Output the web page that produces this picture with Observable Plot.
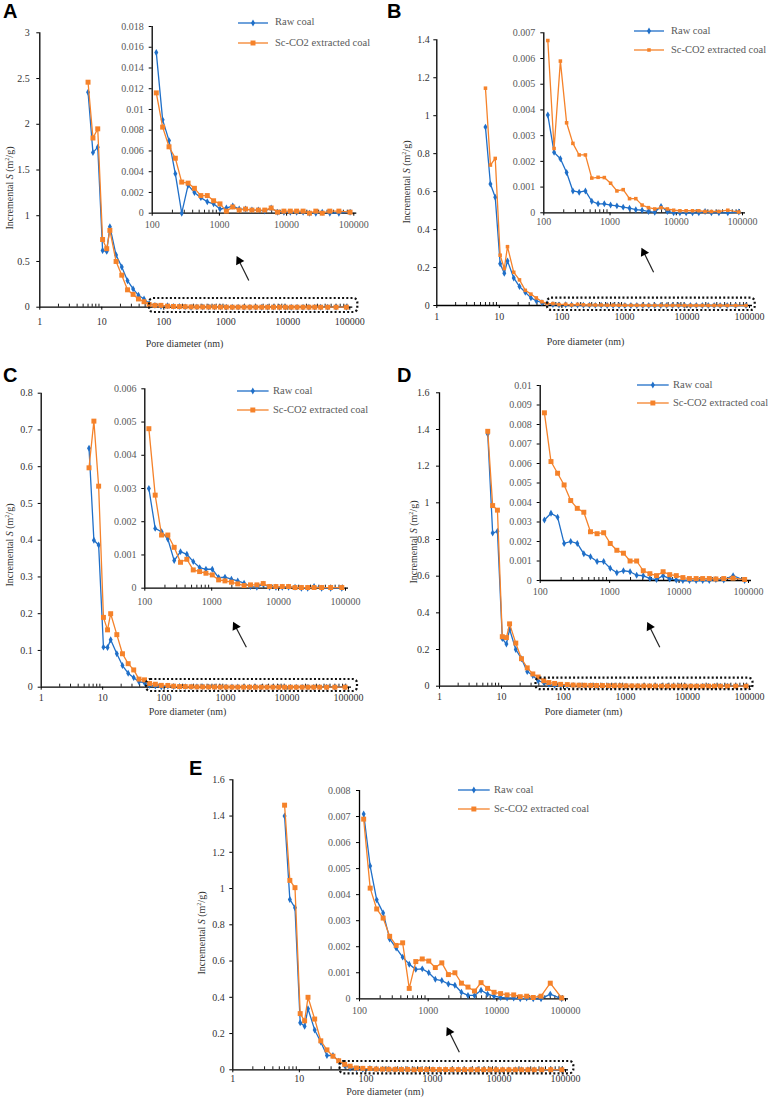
<!DOCTYPE html>
<html><head><meta charset="utf-8">
<script src="https://cdn.jsdelivr.net/npm/d3@7"></script>
<script src="https://cdn.jsdelivr.net/npm/@observablehq/plot@0.6"></script>
<style>
html,body{margin:0;padding:0;background:#fff;}
#root{position:relative;width:768px;height:1097px;overflow:hidden;background:#fff;}
.letter{position:absolute;font-family:"Liberation Sans",Arial,sans-serif;font-weight:bold;font-size:20px;line-height:20px;color:#000;}
.xlab{position:absolute;font-family:"Liberation Serif",serif;font-size:10px;line-height:12px;color:#333;white-space:nowrap;transform:translate(-50%,-50%);}
.ylab{position:absolute;font-family:"Liberation Serif",serif;font-size:10px;line-height:12px;color:#333;white-space:nowrap;transform:translate(-50%,-50%) rotate(-90deg);}
.leg{position:absolute;font-family:"Liberation Serif",serif;font-size:10.5px;line-height:12px;color:#595959;white-space:nowrap;}
</style></head>
<body><div id="root"></div>
<script>
// ---------- data ----------
const diameter = [6.0, 7.2, 8.6, 10.3, 12.0, 13.5, 17, 21, 26, 32, 39, 48, 58, 72, 90,
  115, 143, 178, 221, 275, 342, 425, 530, 660, 820, 1020, 1270, 1580, 1970, 2450,
  3050, 3800, 4730, 5890, 7330, 9120, 11350, 14100, 17600, 21900, 27200, 33900, 44000, 60000, 88000];

const rawA = [2.35,1.69,1.75,0.62,0.61,0.88,0.57,0.44,0.29,0.20,0.13,0.09,0.04,0.02,0.01,
  0.0155,0.009,0.007,0.0038,0.0,0.0027,0.002,0.0015,0.0011,0.0009,0.0004,0.0005,0.0007,0.0004,0.0004,
  0.0003,0.0003,0.0002,0.0005,0.0001,0.0001,0.0001,0.0001,0.0001,0.0,0.0,0.0001,0.0,0.0,0.0001];
const scA = [2.46,1.85,1.95,0.74,0.64,0.84,0.50,0.35,0.19,0.14,0.09,0.06,0.03,0.02,0.02,
  0.0116,0.0083,0.0064,0.0053,0.0030,0.0029,0.0024,0.0017,0.0017,0.0012,0.0009,0.0002,0.0006,0.0003,0.0004,
  0.0003,0.0003,0.0003,0.0005,0.0001,0.0002,0.0002,0.0002,0.0002,0.0,0.0002,0.0,0.0002,0.0002,0.0001];

const rawB = [0.94,0.64,0.57,0.22,0.17,0.235,0.145,0.10,0.07,0.04,0.025,0.015,0.01,0.005,0.003,
  0.0038,0.00235,0.0021,0.00157,0.00085,0.0008,0.00085,0.00045,0.00035,0.00035,0.0003,0.00027,0.00022,0.00018,0.00012,
  0.0001,0.00005,0.00002,0.00025,0.00005,0,0,0,0,0,0.00005,0,0,0,0.00003];
const scB = [1.145,0.74,0.775,0.265,0.195,0.31,0.175,0.135,0.08,0.06,0.04,0.02,0.01,0.01,0.005,
  0.0067,0.0025,0.0059,0.0035,0.0027,0.00225,0.00225,0.00135,0.00138,0.00137,0.00115,0.00085,0.0009,0.00055,0.00055,
  0.0003,0.0002,0.00015,0.0002,0.00015,0.0001,0.00008,0.00008,0.00008,0.00008,0.00005,0.00005,0.00005,0.0001,0.00003];

const rawC = [0.65,0.40,0.387,0.109,0.108,0.129,0.091,0.059,0.038,0.026,0.015,0.012,0.005,0.003,0.001,
  0.0030,0.0018,0.0017,0.00148,0.00083,0.0011,0.00102,0.0008,0.00062,0.00057,0.00057,0.00032,0.00033,0.00027,0.00022,
  0.00015,0.00005,0.00003,0.00012,0.00003,0.00003,0.00003,0.00003,0.00003,0,0,0.00005,0,0,0];
const scC = [0.597,0.724,0.547,0.19,0.156,0.20,0.143,0.091,0.064,0.047,0.022,0.02,0.01,0.008,0.005,
  0.0048,0.0028,0.0016,0.0016,0.00123,0.00078,0.00087,0.00055,0.0005,0.00045,0.0004,0.00025,0.00022,0.00018,0.00013,
  0.00008,0.0001,0.0001,0.00014,0.00005,0.00005,0.00005,0.00005,0.00002,0.00002,0.00002,0.00002,0.00002,0.00002,0.00002];

const rawD = [1.375,0.835,0.845,0.26,0.23,0.31,0.20,0.15,0.08,0.058,0.03,0.02,0.01,0.005,0.003,
  0.0031,0.00345,0.00325,0.0019,0.002,0.0019,0.00137,0.00122,0.00097,0.00097,0.00063,0.0004,0.0005,0.00045,0.00027,
  0.00025,0.0001,0.00005,0.00025,0.00008,0.00003,0,0,0,0,0,0.00005,0.00003,0.00025,0];
const scD = [1.39,0.985,0.96,0.27,0.265,0.34,0.235,0.15,0.10,0.067,0.05,0.03,0.02,0.015,0.01,
  0.0086,0.0061,0.0055,0.0049,0.0041,0.0037,0.0035,0.0025,0.0024,0.00245,0.0019,0.00155,0.0014,0.001,0.001,
  0.0005,0.00035,0.00025,0.00045,0.0003,0.00025,0.00015,0.0001,0.0001,0.0001,0.0001,0.00008,0.0001,0.00012,0.00005];

const rawE = [1.40,0.94,0.894,0.26,0.24,0.337,0.22,0.153,0.079,0.079,0.048,0.024,0.01,0.005,0.003,
  0.0071,0.0051,0.0038,0.0033,0.0023,0.00195,0.0016,0.00133,0.00113,0.00115,0.001,0.00075,0.0007,0.00057,0.00052,
  0.00025,0.00013,0.00013,0.00033,0.00018,0.0001,0.00005,0.00003,0.00003,0,0.00003,0,0,0.00018,0];
const scE = [1.46,1.045,1.005,0.31,0.27,0.40,0.28,0.16,0.11,0.075,0.05,0.03,0.02,0.01,0.008,
  0.0069,0.00425,0.00345,0.0031,0.0024,0.00205,0.00215,0.0004,0.00143,0.00153,0.00145,0.0012,0.00138,0.00093,0.001,
  0.0006,0.00045,0.0003,0.00062,0.0004,0.00025,0.0002,0.00015,0.00015,0.00008,0.0001,0.00005,0.0001,0.0006,0.00003];

const seriesNames = ["Raw coal", "Sc-CO2 extracted coal"];
const mainTicksX = [1, 10, 100, 1000, 10000, 100000];
const insetTicksX = [100, 1000, 10000, 100000];
const yTicksA = [0, 0.5, 1, 1.5, 2, 2.5, 3];
const yTicksB = [0, 0.2, 0.4, 0.6, 0.8, 1, 1.2, 1.4];
const yTicksC = [0, 0.1, 0.2, 0.3, 0.4, 0.5, 0.6, 0.7, 0.8];
const yTicksD = [0, 0.2, 0.4, 0.6, 0.8, 1, 1.2, 1.4, 1.6];
const yTicksE = [0, 0.2, 0.4, 0.6, 0.8, 1, 1.2, 1.4, 1.6];
const insetTicksA = [0, 0.002, 0.004, 0.006, 0.008, 0.01, 0.012, 0.014, 0.016, 0.018];
const insetTicksB = [0, 0.001, 0.002, 0.003, 0.004, 0.005, 0.006, 0.007];
const insetTicksC = [0, 0.001, 0.002, 0.003, 0.004, 0.005, 0.006];
const insetTicksD = [0, 0.001, 0.002, 0.003, 0.004, 0.005, 0.006, 0.007, 0.008, 0.009, 0.01];
const insetTicksE = [0, 0.001, 0.002, 0.003, 0.004, 0.005, 0.006, 0.007, 0.008];

// annotation anchors (data units): dotted box start and arrow tail/head
const boxStart = {A: 59, B: 59, C: 52, D: 36, E: 41};
const arrows = {
  A: {x1: 2350, y1: 0.292, x2: 1633, y2: 0.507},
  B: {x1: 2926, y1: 0.175, x2: 2042, y2: 0.280},
  C: {x1: 2178, y1: 0.1088, x2: 1449, y2: 0.1654},
  D: {x1: 3573, y1: 0.2127, x2: 2448, y2: 0.324},
  E: {x1: 2540, y1: 0.0971, x2: 1783, y2: 0.2097}
};

// ---------- style ----------
const blue = "#1f6fc8", orange = "#f5822a";
const root = document.getElementById("root");

function rowsFor(raw, sc, minD) {
  const out = [];
  diameter.forEach((d, i) => { if (d >= minD) out.push({d, v: raw[i], s: seriesNames[0]}); });
  diameter.forEach((d, i) => { if (d >= minD) out.push({d, v: sc[i], s: seriesNames[1]}); });
  return out;
}
function minorTicks(lo, hi) {
  const out = [];
  for (let p = Math.log10(lo); p < Math.log10(hi); p++) for (let m = 2; m <= 9; m++) out.push(m * Math.pow(10, p));
  return out;
}

function drawPlot(c) {
  const mL = c.x1 - c.left, mR = c.left + c.width - c.x2, mT = c.ytop - c.top, mB = c.top + c.height - c.y0;
  const innerH = c.y0 - c.ytop;
  const yMax = c.yDomain[1];
  const raw = c.rows.filter(r => r.s === seriesNames[0]);
  const sc = c.rows.filter(r => r.s === seriesNames[1]);
  const marks = [
    Plot.ruleX(minorTicks(c.xDomain[0], c.xDomain[1]), {x: d => d, y1: 0, y2: yMax * 3 / innerH, stroke: "#000", strokeWidth: 0.9}),
    Plot.axisX({ticks: c.xTicks, tickFormat: d => String(d), tickSize: 3, tickPadding: c.xPad, stroke: "#000", fill: c.textColor, label: null}),
    Plot.axisY({ticks: c.yTicks, tickFormat: d => String(d), tickSize: 3, tickPadding: c.yPad, stroke: "#000", fill: c.textColor, label: null}),
    Plot.ruleX([c.xDomain[0]], {stroke: "#000", strokeWidth: 1.3}),
    Plot.ruleY([0], {stroke: "#000", strokeWidth: 1.3, insetRight: -3}),
    Plot.line(raw, {x: "d", y: "v", stroke: blue, strokeWidth: 1.3}),
    Plot.dot(raw, {x: "d", y: "v", symbol: "diamond", r: 2.1, fill: blue, stroke: "none"}),
    Plot.line(sc, {x: "d", y: "v", stroke: orange, strokeWidth: 1.3}),
    Plot.dot(sc, {x: "d", y: "v", symbol: "square", r: c.sqR, fill: orange, stroke: "none"})
  ];
  if (c.box) {
    marks.push(Plot.rect([c.box], {x1: "x1", x2: "x2", y1: 0, y2: 0, insetTop: -c.box.top, insetBottom: -c.box.bottom,
      insetRight: -c.box.right, fill: "none", stroke: "#111", strokeWidth: 2.2, strokeDasharray: "2 2.2", rx: 4}));
  }
  if (c.arrow) {
    marks.push(Plot.link([c.arrow], {x1: "x1", y1: "y1", x2: "x2", y2: "y2", stroke: "#222", strokeWidth: 1.2}));
    marks.push(Plot.dot([c.arrow], {x: "x2", y: "y2", symbol: "triangle", r: 3.4, fill: "#000", stroke: "none", rotate: -27}));
  }
  const svg = Plot.plot({
    width: c.width, height: c.height,
    marginLeft: mL, marginRight: mR, marginTop: mT, marginBottom: mB,
    x: {type: "log", domain: c.xDomain},
    y: {domain: c.yDomain},
    style: `background: transparent; overflow: visible; max-width: none; font-family: 'Liberation Serif', serif; font-size: 10px; color: ${c.textColor};`,
    marks
  });
  svg.style.position = "absolute";
  svg.style.left = c.left + "px";
  svg.style.top = c.top + "px";
  root.appendChild(svg);
}

function addDiv(cls, html, left, top) {
  const el = document.createElement("div");
  el.className = cls; el.innerHTML = html;
  el.style.left = left + "px"; el.style.top = top + "px";
  root.appendChild(el);
}
function legend(lx1, lx2, ys, tx, sqR) {
  const w = lx2 - lx1;
  const syms = [[d3.symbolDiamond, Math.PI * 2.1 * 2.1, blue], [d3.symbolSquare, Math.PI * sqR * sqR, orange]];
  ys.forEach((y, k) => {
    const svg = d3.create("svg").attr("width", w).attr("height", 12)
      .style("position", "absolute").style("left", lx1 + "px").style("top", (y - 6) + "px").style("overflow", "visible");
    svg.append("line").attr("x1", 0).attr("x2", w).attr("y1", 6).attr("y2", 6).attr("stroke", syms[k][2]).attr("stroke-width", 1.3);
    svg.append("path").attr("transform", `translate(${w / 2},6)`).attr("d", d3.symbol(syms[k][0], syms[k][1])()).attr("fill", syms[k][2]);
    root.appendChild(svg.node());
    addDiv("leg", seriesNames[k], tx, y - 6.5);
  });
}

const panels = [
  {key: "A", raw: rawA, sc: scA, yTicks: yTicksA, insetTicks: insetTicksA, sqR: 2.8,
   main: {left: 0, top: 0, width: 384, height: 330, x1: 39.3, x2: 349.3, ytop: 32.3, y0: 306.7, yMax: 3, xPad: 8, yPad: 7},
   inset: {left: 100, top: 10, width: 270, height: 225, x1: 151.7, x2: 353.3, ytop: 26, y0: 212.7, yMax: 0.018, xPad: 4.3, yPad: 5.5},
   box: {top: 8.7, bottom: 5.3, right: 8}, letter: [3, 1], ylab: [7.5, 188], xlab: [184.5, 344],
   legend: [238, 268, [22.7, 43], 275]},
  {key: "B", raw: rawB, sc: scB, yTicks: yTicksB, insetTicks: insetTicksB, sqR: 2.0,
   main: {left: 384, top: 0, width: 384, height: 330, x1: 436.3, x2: 749, ytop: 39.3, y0: 305, yMax: 1.4, xPad: 4.7, yPad: 4},
   inset: {left: 484, top: 15, width: 275, height: 215, x1: 543.3, x2: 742, ytop: 32.3, y0: 212.3, yMax: 0.007, xPad: 2.4, yPad: 5.6},
   box: {top: 7.3, bottom: 5, right: 5.7}, letter: [387, 1], ylab: [404.5, 182], xlab: [585.5, 342],
   legend: [634, 664, [31, 50], 671]},
  {key: "C", raw: rawC, sc: scC, yTicks: yTicksC, insetTicks: insetTicksC, sqR: 2.8,
   main: {left: 0, top: 360, width: 384, height: 350, x1: 40.7, x2: 348, ytop: 392.7, y0: 686.7, yMax: 0.8, xPad: 3.6, yPad: 5.4},
   inset: {left: 90, top: 375, width: 275, height: 232, x1: 144.3, x2: 345, ytop: 388.3, y0: 587.7, yMax: 0.006, xPad: 7, yPad: 5.3},
   box: {top: 7.7, bottom: 4.3, right: 9}, letter: [3, 364.7], ylab: [7.5, 545], xlab: [187.5, 712],
   legend: [236.7, 268.3, [391, 410], 273]},
  {key: "D", raw: rawD, sc: scD, yTicks: yTicksD, insetTicks: insetTicksD, sqR: 2.8,
   main: {left: 384, top: 360, width: 384, height: 350, x1: 439, x2: 749, ytop: 392.3, y0: 685.7, yMax: 1.6, xPad: 4, yPad: 7},
   inset: {left: 480, top: 372, width: 285, height: 230, x1: 539.7, x2: 748, ytop: 385, y0: 580, yMax: 0.01, xPad: 4.7, yPad: 5.4},
   box: {top: 8, bottom: 3.5, right: 3.5}, letter: [397, 364.7], ylab: [412.3, 542], xlab: [583.5, 712],
   legend: [637.3, 669, [385, 403.3], 673]},
  {key: "E", raw: rawE, sc: scE, yTicks: yTicksE, insetTicks: insetTicksE, sqR: 2.8,
   main: {left: 190, top: 740, width: 400, height: 357, x1: 232.3, x2: 565, ytop: 779.3, y0: 1069.3, yMax: 1.6, xPad: 2.3, yPad: 5},
   inset: {left: 300, top: 775, width: 285, height: 245, x1: 359, x2: 565, ytop: 790, y0: 998.3, yMax: 0.008, xPad: 5.4, yPad: 6},
   box: {top: 8.3, bottom: 4, right: 8.3}, letter: [189, 758.4], ylab: [200, 933], xlab: [385, 1091.5],
   legend: [458.3, 490, [790, 809.3], 494]}
];

panels.forEach(p => {
  const m = p.main, s = p.inset;
  drawPlot({...m, xDomain: [1, 100000], yDomain: [0, m.yMax], xTicks: mainTicksX, yTicks: p.yTicks,
    rows: rowsFor(p.raw, p.sc, 0), textColor: "#333", sqR: p.sqR,
    box: {x1: boxStart[p.key], x2: 100000, ...p.box}, arrow: arrows[p.key]});
  drawPlot({...s, xDomain: [100, 100000], yDomain: [0, s.yMax], xTicks: insetTicksX, yTicks: p.insetTicks,
    rows: rowsFor(p.raw, p.sc, 100), textColor: "#595959", sqR: p.sqR});
  addDiv("letter", p.key, p.letter[0], p.letter[1]);
  addDiv("ylab", "Incremental <i>S</i> (m<sup style='font-size:6px;vertical-align:4px'>2</sup>/g)", p.ylab[0], p.ylab[1]);
  addDiv("xlab", "Pore diameter (nm)", p.xlab[0], p.xlab[1]);
  legend(p.legend[0], p.legend[1], p.legend[2], p.legend[3], p.sqR);
});
</script>
</body></html>
